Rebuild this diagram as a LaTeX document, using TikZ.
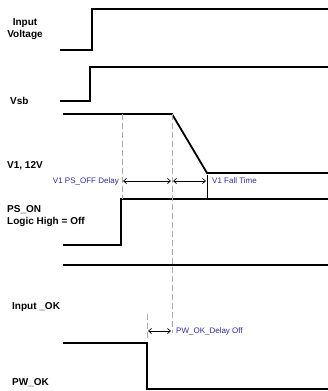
\documentclass[tikz,border=0pt]{standalone}
\usepackage{fontspec}
\setmainfont{Liberation Sans}
\usetikzlibrary{arrows.meta}
\definecolor{lblblue}{RGB}{45,45,150}
\definecolor{guide}{RGB}{170,170,170}
\tikzset{
  sig/.style={line width=1.8pt, line join=miter},
  siglabel/.style={font=\bfseries\fontsize{10}{12.5}\selectfont, inner sep=0pt, align=left},
  guideline/.style={guide, line width=0.9pt, dash pattern=on 6pt off 3pt},
  dim/.style={line width=0.7pt, {Straight Barb[length=3pt,width=5pt]}-{Straight Barb[length=3pt,width=5pt]}},
  dimlabel/.style={lblblue, font=\fontsize{8}{9.5}\selectfont, inner sep=0pt},
  tick/.style={line width=0.8pt}
}
\begin{document}
\begin{tikzpicture}[x=1pt,y=-1pt]
\useasboundingbox (0,0) rectangle (328,391);
% signal labels
\node[siglabel, align=center] (lin) at (25,29) {Input\\Voltage};
\node[siglabel, anchor=west] (lvsb) at (10,101) {Vsb};
\node[siglabel, anchor=west] (lv1) at (7,166) {V1, 12V};
\node[siglabel, anchor=west] (lps) at (7,216) {PS\_ON\\Logic High = Off};
\node[siglabel, anchor=west] (lok) at (12,307) {Input \_OK};
\node[siglabel, anchor=west] (lpw) at (12,383) {PW\_OK};
% waveforms
\draw[sig] (60,50) -- (92,50) -- (92,9) -- (328,9);
\draw[sig] (60,101) -- (90,101) -- (90,67) -- (328,67);
\draw[sig] (63,114) -- (172,114) -- (207,173) -- (328,173);
\draw[sig] (63,245) -- (121,245) -- (121,199) -- (328,199);
\draw[sig] (63,265) -- (328,265);
\draw[sig] (63,343) -- (147,343) -- (147,389) -- (328,389);
% guide coordinates
\coordinate (g1t) at (122,114);
\coordinate (g1b) at (122,199);
\coordinate (g2t) at (172,114);
\coordinate (g2b) at (172,333);
\coordinate (g3t) at (147,314);
\coordinate (g3b) at (147,340);
\coordinate (f1) at (207,175);
\coordinate (f2) at (207,199);
\draw[guideline] (g1t) -- (g1b);
\draw[guideline] (g2t) -- (g2b);
\draw[guideline] (g3t) -- (g3b);
\draw[tick] (f1) -- (f2);
% dimension arrows
\coordinate (a1) at (123,181);
\coordinate (a2) at (171,181);
\coordinate (a3) at (173,181);
\coordinate (a4) at (206,181);
\coordinate (a5) at (148,331);
\coordinate (a6) at (171,331);
\draw[dim] (a1) -- (a2);
\draw[dim] (a3) -- (a4);
\draw[dim] (a5) -- (a6);
\node[dimlabel, anchor=east] (d1) at (119,181) {V1 PS\_OFF Delay};
\node[dimlabel, anchor=west] (d2) at (212,181) {V1 Fall Time};
\node[dimlabel, anchor=west] (d3) at (176,331) {PW\_OK\_Delay Off};
\end{tikzpicture}
\end{document}
